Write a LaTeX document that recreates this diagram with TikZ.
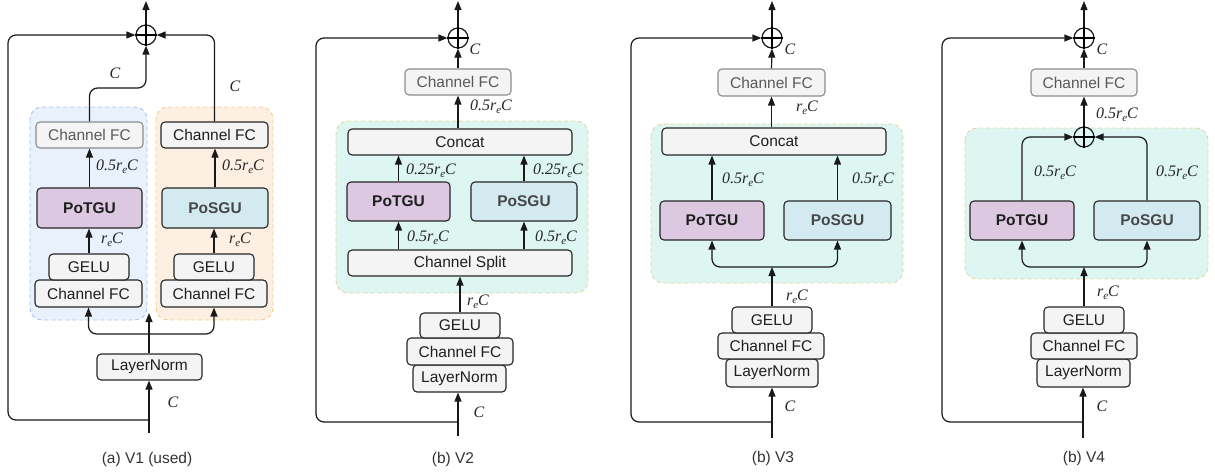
\documentclass[tikz,border=0pt]{standalone}
\usepackage{fontspec}
\setmainfont{Liberation Sans}
\newfontfamily\serifit{Liberation Serif}
\usetikzlibrary{arrows.meta}
\definecolor{boxfill}{HTML}{F4F4F4}
\definecolor{grayfill}{HTML}{F4F4F4}
\definecolor{tgufill}{HTML}{DCC8E0}
\definecolor{sgufill}{HTML}{D3EAF1}
\definecolor{bluebg}{HTML}{E9F1FC}
\definecolor{blueedge}{HTML}{A8C5EC}
\definecolor{orbg}{HTML}{FDEFE2}
\definecolor{oredge}{HTML}{F5CD8E}
\definecolor{tealbg}{HTML}{DDF6F1}
\definecolor{tealedge}{HTML}{E5D6A3}
\newcommand\mainsz{\fontsize{15.5}{18}\selectfont}
\newcommand\labsz{\fontsize{16}{19}\selectfont\serifit\itshape}
\newcommand\rC[1]{#1r\raisebox{-0.35ex}{\fontsize{11}{12}\selectfont e}C}
\newcommand\bx[7]{\node[#1, minimum width={(#5)-(#3)}, minimum height={(#6)-(#4)}] (#2) at ({((#3)+(#5))/2},{((#4)+(#6))/2}) {#7};}
\tikzset{
 ln/.style={line width=1.2pt, draw=black!90},
 arr/.style={ln, -{Triangle[length=9pt,width=7pt]}},
 blk/.style={draw=black!85, line width=1.1pt, rounded corners=4pt, fill=boxfill, text=black!88, inner sep=0pt, font=\mainsz},
 grayblk/.style={blk, draw=black!45, text=black!65, fill=grayfill},
 tgu/.style={blk, fill=tgufill, font=\mainsz\bfseries},
 sgu/.style={blk, fill=sgufill, font=\mainsz\bfseries, text=black!72},
 plus/.style={circle, draw=black!90, line width=1.2pt, minimum size=20pt, inner sep=0pt},
 lab/.style={font=\labsz, inner sep=0pt, text=black!85},
 captxt/.style={font=\mainsz, text=black!80, inner sep=0pt},
 bg/.style={dash pattern=on 4pt off 3pt, line width=0.9pt, rounded corners=12pt}
}
\newcommand\plusmark[1]{\draw[line width=1.1pt] (#1.north)--(#1.south) (#1.west)--(#1.east);}
\begin{document}
\begin{tikzpicture}[x=1pt,y=-1pt]
\useasboundingbox (0,0) rectangle (1215,475);
% ================= Panel A =================
\draw[bg, fill=bluebg, draw=blueedge] (30,107) rectangle (147,320);
\draw[bg, fill=orbg, draw=oredge] (156,107) rectangle (273,320);
\bx{grayblk}{cfoA}{36}{122}{143}{148}{Channel FC}
\bx{blk}{cfoA2}{161}{122}{268}{148}{Channel FC}
\bx{tgu}{tguA}{37}{188}{142}{228}{PoTGU}
\bx{sgu}{sguA}{162}{188}{268}{228}{PoSGU}
\bx{blk}{cfA1}{35}{280}{142}{307}{Channel FC}
\bx{blk}{geluA1}{49}{254}{129}{280}{GELU}
\bx{blk}{cfA2}{161}{280}{267}{307}{Channel FC}
\bx{blk}{geluA2}{174}{254}{254}{280}{GELU}
\bx{blk}{lnA}{97}{354}{202}{380}{LayerNorm}
\node[plus] (pA) at (146,35) {}; \plusmark{pA}
\coordinate (inA) at (149,433); \coordinate (jA) at (149,420); \coordinate (outA) at (146,1);
\coordinate (bA) at (149,334); \coordinate (tipA) at (149,313); \coordinate (mA) at (146,88);
\draw[arr] (inA) -- (inA |- lnA.south);
\draw[arr, rounded corners=8pt] (jA) -| (8,35) -- (pA.west);
\draw[arr] (lnA.north -| inA) -- (tipA);
\draw[arr, rounded corners=8pt] (bA) -| (cfA1.south);
\draw[arr, rounded corners=8pt] (bA) -| (cfA2.south);
\draw[arr] (geluA1.north) -- (geluA1.north |- tguA.south);
\draw[arr] (geluA2.north) -- (geluA2.north |- sguA.south);
\draw[arr] (tguA.north) -- (tguA.north |- cfoA.south);
\draw[arr] (sguA.north) -- (sguA.north |- cfoA2.south);
\draw[arr, rounded corners=8pt] (cfoA.north) |- (mA) -- (pA.south);
\draw[arr, rounded corners=8pt] (cfoA2.north) |- (pA.east);
\draw[arr] (pA.north) -- (outA);
\node[lab] (lA1) at (117,167) {\rC{0.5}};
\node[lab] (lA2) at (243,167) {\rC{0.5}};
\node[lab] (lA3) at (112,240) {\rC{}};
\node[lab] (lA4) at (240,240) {\rC{}};
\node[lab] (lA5) at (115,73) {C};
\node[lab] (lA6) at (235,86) {C};
\node[lab] (lA7) at (173,402) {C};
\node[captxt] (capA) at (147,459) {(a) V1 (used)};
% ================= Panel B =================
\draw[bg, fill=tealbg, draw=tealedge] (336,121) rectangle (588,293);
\bx{grayblk}{cfoB}{405}{69}{511}{95}{Channel FC}
\bx{blk}{concatB}{348}{129}{572}{155}{Concat}
\bx{tgu}{tguB}{347}{182}{450}{221}{PoTGU}
\bx{sgu}{sguB}{471}{182}{577}{221}{PoSGU}
\bx{blk}{splitB}{348}{250}{572}{276}{Channel Split}
\bx{blk}{lnB}{413}{365}{506}{392}{LayerNorm}
\bx{blk}{cfB}{407}{338}{513}{365}{Channel FC}
\bx{blk}{geluB}{420}{313}{500}{338}{GELU}
\node[plus] (pB) at (458,38) {}; \plusmark{pB}
\coordinate (inB) at (458,436); \coordinate (jB) at (458,422); \coordinate (outB) at (458,1);
\draw[arr] (inB) -- (inB |- lnB.south);
\draw[arr, rounded corners=8pt] (jB) -| (316,38) -- (pB.west);
\draw[arr] (geluB.north) -- (geluB.north |- splitB.south);
\draw[arr] (tguB.south |- splitB.north) -- (tguB.south);
\draw[arr] (sguB.south |- splitB.north) -- (sguB.south);
\draw[arr] (tguB.north) -- (tguB.north |- concatB.south);
\draw[arr] (sguB.north) -- (sguB.north |- concatB.south);
\draw[arr] (cfoB.south |- concatB.north) -- (cfoB.south);
\draw[arr] (cfoB.north) -- (pB.south);
\draw[arr] (pB.north) -- (outB);
\node[lab] (lB1) at (491,107) {\rC{0.5}};
\node[lab] (lB2) at (431,171) {\rC{0.25}};
\node[lab] (lB3) at (558,171) {\rC{0.25}};
\node[lab] (lB4) at (428,238) {\rC{0.5}};
\node[lab] (lB5) at (556,238) {\rC{0.5}};
\node[lab] (lB6) at (478,302) {\rC{}};
\node[lab] (lB7) at (475,49) {C};
\node[lab] (lB8) at (479,412) {C};
\node[captxt] (capB) at (453,459) {(b) V2};
% ================= Panel C =================
\draw[bg, fill=tealbg, draw=tealedge] (651,124) rectangle (903,283);
\bx{grayblk}{cfoC}{718}{69}{825}{96}{Channel FC}
\bx{blk}{concatC}{662}{128}{886}{155}{Concat}
\bx{tgu}{tguC}{660}{201}{764}{240}{PoTGU}
\bx{sgu}{sguC}{784}{201}{891}{240}{PoSGU}
\bx{blk}{lnC}{726}{359}{818}{387}{LayerNorm}
\bx{blk}{cfC}{718}{333}{824}{359}{Channel FC}
\bx{blk}{geluC}{732}{307}{812}{333}{GELU}
\node[plus] (pC) at (772,38) {}; \plusmark{pC}
\coordinate (inC) at (772,438); \coordinate (jC) at (772,422); \coordinate (outC) at (772,1);
\coordinate (bC) at (772,267);
\draw[arr] (inC) -- (inC |- lnC.south);
\draw[arr, rounded corners=8pt] (jC) -| (631,38) -- (pC.west);
\draw[arr] (geluC.north) -- (bC);
\draw[arr, rounded corners=8pt] (bC) -| (tguC.south);
\draw[arr, rounded corners=8pt] (bC) -| (sguC.south);
\draw[arr] (tguC.north) -- (tguC.north |- concatC.south);
\draw[arr] (sguC.north) -- (sguC.north |- concatC.south);
\draw[arr] (cfoC.south |- concatC.north) -- (cfoC.south);
\draw[arr] (cfoC.north) -- (pC.south);
\draw[arr] (pC.north) -- (outC);
\node[lab] (lC1) at (807,108) {\rC{}};
\node[lab] (lC2) at (743,180) {\rC{0.5}};
\node[lab] (lC3) at (873,180) {\rC{0.5}};
\node[lab] (lC4) at (797,297) {\rC{}};
\node[lab] (lC5) at (790,49) {C};
\node[lab] (lC6) at (790,406) {C};
\node[captxt] (capC) at (773,458) {(b) V3};
% ================= Panel D =================
\draw[bg, fill=tealbg, draw=tealedge] (965,128) rectangle (1208,279);
\bx{grayblk}{cfoD}{1031}{69}{1137}{96}{Channel FC}
\bx{tgu}{tguD}{970}{201}{1074}{240}{PoTGU}
\bx{sgu}{sguD}{1094}{201}{1200}{240}{PoSGU}
\bx{blk}{lnD}{1037}{359}{1130}{387}{LayerNorm}
\bx{blk}{cfD}{1031}{333}{1137}{359}{Channel FC}
\bx{blk}{geluD}{1044}{307}{1124}{333}{GELU}
\node[plus] (pD) at (1084,38) {}; \plusmark{pD}
\node[plus] (qD) at (1084,137) {}; \plusmark{qD}
\coordinate (inD) at (1083,438); \coordinate (jD) at (1083,422); \coordinate (outD) at (1084,1);
\coordinate (bD) at (1084,267);
\draw[arr] (inD) -- (inD |- lnD.south);
\draw[arr, rounded corners=8pt] (jD) -| (942,38) -- (pD.west);
\draw[arr] (geluD.north) -- (bD);
\draw[arr, rounded corners=8pt] (bD) -| (tguD.south);
\draw[arr, rounded corners=8pt] (bD) -| (sguD.south);
\draw[arr, rounded corners=8pt] (tguD.north) |- (qD.west);
\draw[arr, rounded corners=8pt] (sguD.north) |- (qD.east);
\draw[arr] (qD.north) -- (cfoD.south);
\draw[arr] (cfoD.north) -- (pD.south);
\draw[arr] (pD.north) -- (outD);
\node[lab] (lD1) at (1117,115) {\rC{0.5}};
\node[lab] (lD2) at (1055,173) {\rC{0.5}};
\node[lab] (lD3) at (1177,173) {\rC{0.5}};
\node[lab] (lD4) at (1108,293) {\rC{}};
\node[lab] (lD5) at (1102,49) {C};
\node[lab] (lD6) at (1102,406) {C};
\node[captxt] (capD) at (1084,458) {(b) V4};
\end{tikzpicture}
\end{document}
